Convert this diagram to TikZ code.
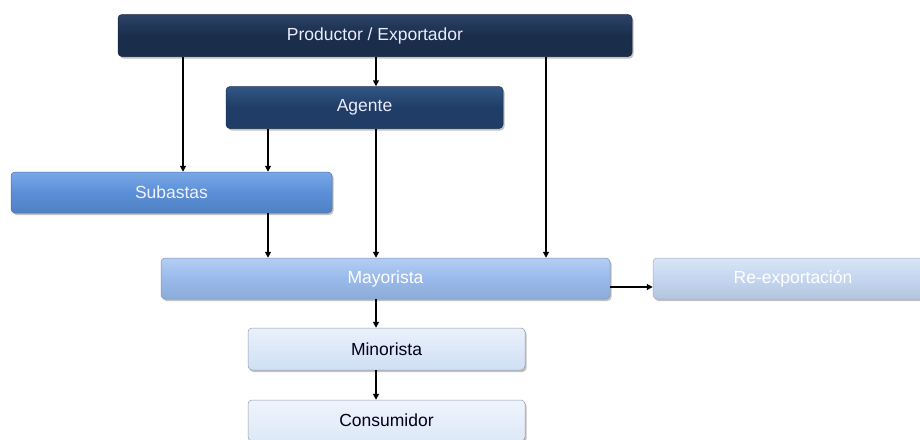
\documentclass[tikz,border=0pt]{standalone}
\usepackage{fontspec}
\setmainfont{Liberation Sans}
\usetikzlibrary{shadows,arrows.meta}

\definecolor{navyA}{HTML}{1A2D4B}
\definecolor{navyAtop}{HTML}{2C4468}
\definecolor{navyB}{HTML}{1F3D66}
\definecolor{navyBtop}{HTML}{325684}
\definecolor{blueC}{HTML}{5A8FD8}
\definecolor{blueCtop}{HTML}{7AA8E6}
\definecolor{blueD}{HTML}{98BAEB}
\definecolor{blueDtop}{HTML}{B4CEF2}
\definecolor{blueE}{HTML}{C4D6F0}
\definecolor{blueEtop}{HTML}{D8E5F6}
\definecolor{paleF}{HTML}{CFDFF4}
\definecolor{paleFtop}{HTML}{EAF1FB}

\tikzset{
  flowbox/.style={rounded corners=4pt, minimum height=42pt, inner sep=0pt,
    font=\fontsize{17.5}{21}\selectfont, line width=0.5pt,
    drop shadow={shadow xshift=1.5pt, shadow yshift=-2pt, opacity=0.4, fill=black!60}},
  boxA/.style={flowbox, draw=navyA!80!black, top color=navyAtop, bottom color=navyA, middle color=navyA, text=white!92!blue},
  boxB/.style={flowbox, draw=navyB!80!black, top color=navyBtop, bottom color=navyB, middle color=navyB, text=white!92!blue},
  boxC/.style={flowbox, draw=blueC!80!black, top color=blueCtop, bottom color=blueC!90!black, middle color=blueC, text=white!95!blue},
  boxD/.style={flowbox, draw=blueD!80!black, top color=blueDtop, bottom color=blueD!92!black, middle color=blueD, text=white},
  boxE/.style={flowbox, draw=blueE!80!black, top color=blueEtop, bottom color=blueE!92!black, middle color=blueE, text=white},
  boxF/.style={flowbox, draw=paleF!70!black, top color=paleFtop, bottom color=paleF, text=black!90!blue},
  flow/.style={line width=1.2pt, -{Triangle[length=6pt,width=6pt]}},
}

\begin{document}
\begin{tikzpicture}[x=1pt,y=-1pt]
  \useasboundingbox (0,0) rectangle (920,439);
  \clip (0,0) rectangle (920,439);

  % the chain of trade
  \node[boxA, minimum width=514pt] (prod) at (375,35.5) {Productor / Exportador};
  \node[boxB, minimum width=277pt] (agent) at (364.5,107.5) {Agente};
  \node[boxC, minimum width=321pt, minimum height=41pt] (auction) at (171.5,192.5) {Subastas};
  \node[boxD, minimum width=449pt, minimum height=41pt] (whole) at (385.5,278.5) {Mayorista};
  \node[boxE, minimum width=280pt, minimum height=41pt] (reexp) at (793,278.5) {Re-exportación};
  \node[boxF, minimum width=277pt] (retail) at (386.5,349) {Minorista};
  \node[boxF, minimum width=277pt, minimum height=41pt, top color=paleFtop!80!white, bottom color=paleF!70!white] (cons) at (386.5,420.5) {Consumidor};

  % vertical lanes of the connectors
  \coordinate (laneA) at (183,0);
  \coordinate (laneB) at (268,0);
  \coordinate (laneC) at (376,0);
  \coordinate (laneD) at (546,0);
  \coordinate (laneR) at (0,287);

  \draw[flow] (prod.south -| laneA) -- (auction.north -| laneA);
  \draw[flow] (prod.south -| laneC) -- (agent.north -| laneC);
  \draw[flow] (prod.south -| laneD) -- (whole.north -| laneD);
  \draw[flow] (agent.south -| laneB) -- (auction.north -| laneB);
  \draw[flow] (agent.south -| laneC) -- (whole.north -| laneC);
  \draw[flow] (auction.south -| laneB) -- (whole.north -| laneB);
  \draw[flow] (whole.east |- laneR) -- (reexp.west |- laneR);
  \draw[flow] (whole.south -| laneC) -- (retail.north -| laneC);
  \draw[flow] (retail.south -| laneC) -- (cons.north -| laneC);
\end{tikzpicture}
\end{document}
